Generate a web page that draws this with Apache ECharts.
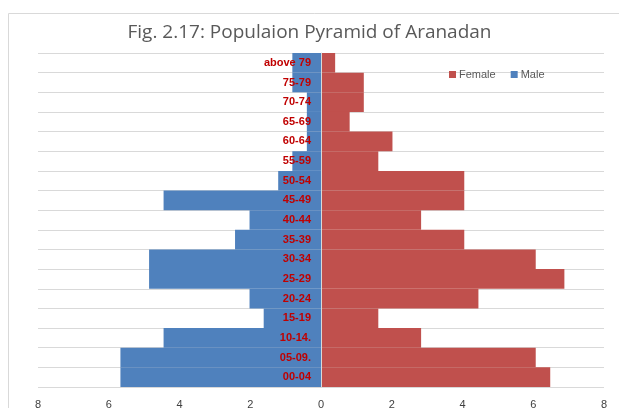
<!DOCTYPE html>
<html lang="en">
<head>
  <meta charset="UTF-8">
  <title>Population pyramid</title>
  <script src="https://cdn.jsdelivr.net/npm/echarts@6/dist/echarts.min.js"></script>
  <style>
    html, body { margin: 0; padding: 0; background: #fff; }
    #main { width: 619px; height: 408px; }
  </style>
</head>
<body>
  <div id="main"></div>
  <script>
    // age groups, top of the pyramid first
    var ageGroups = ['above 79', '75-79', '70-74', '65-69', '60-64', '55-59', '50-54', '45-49',
      '40-44', '35-39', '30-34', '25-29', '20-24', '15-19', '10-14.', '05-09.', '00-04'];
    // percent of population, male shown on the left (negative)
    var maleValues = [-0.81, -0.81, -0.40, -0.40, -0.40, -0.81, -1.21, -4.45,
      -2.02, -2.43, -4.86, -4.86, -2.02, -1.62, -4.45, -5.67, -5.67];
    var femaleValues = [0.40, 1.21, 1.21, 0.81, 2.02, 1.62, 4.05, 4.05,
      2.83, 4.05, 6.07, 6.88, 4.45, 1.62, 2.83, 6.07, 6.48];
    var xTicks = [-8, -6, -4, -2, 0, 2, 4, 6, 8];

    var gridLeft = 38, gridRight = 15;
    var plotW = 619 - gridLeft - gridRight;

    var oChart = echarts.init(document.getElementById('main'));
    var opt = {
      animation: false,
      title: {
        text: 'Fig. 2.17: Populaion Pyramid of Aranadan',
        left: 'center',
        top: 18,
        textStyle: { fontFamily: 'Open Sans', fontSize: 19, fontWeight: 'normal', color: '#595959' }
      },
      graphic: [{
        type: 'rect',
        shape: { x: 8.5, y: 13.5, width: 700, height: 500 },
        style: { fill: 'none', stroke: '#d9d9d9', lineWidth: 1 },
        silent: true
      }],
      legend: {
        data: ['Female', 'Male'],
        left: 444,
        top: 64,
        itemWidth: 7,
        itemHeight: 7,
        itemGap: 15,
        icon: 'rect',
        textStyle: { fontFamily: 'Liberation Sans', fontSize: 11, color: '#595959', padding: [0, 0, 0, -2] }
      },
      grid: { left: gridLeft, right: gridRight, top: 53, bottom: 21, outerBoundsMode: 'none' },
      xAxis: {
        type: 'value',
        min: -8,
        max: 8,
        interval: 2,
        axisLine: { show: false },
        axisTick: { show: false },
        splitLine: { show: false },
        axisLabel: {
          margin: 12,
          fontFamily: 'Liberation Sans',
          fontSize: 11,
          color: '#404040',
          formatter: function (v) { return xTicks.indexOf(v) >= 0 ? String(Math.abs(v)) : ''; }
        }
      },
      yAxis: [
        {
          // gridlines only, drawn under the bars
          type: 'category',
          data: ageGroups,
          inverse: true,
          axisLine: { show: false },
          axisTick: { show: false },
          axisLabel: { show: false },
          splitLine: { show: true, lineStyle: { color: '#d9d9d9', width: 1 } }
        },
        {
          // age labels on the zero line, drawn over the bars
          type: 'category',
          data: ageGroups,
          inverse: true,
          position: 'left',
          z: 5,
          offset: -plotW / 2,
          axisLine: { onZero: false, lineStyle: { color: '#d9d9d9', width: 1 } },
          axisTick: { show: false },
          splitLine: { show: false },
          axisLabel: {
            margin: 10,
            fontFamily: 'Liberation Sans',
            fontSize: 11,
            fontWeight: 'bold',
            color: '#c00000'
          }
        }
      ],
      series: [
        {
          name: 'Male',
          type: 'bar',
          stack: 'pop',
          barCategoryGap: 0,
          itemStyle: { color: '#4f81bd' },
          data: maleValues
        },
        {
          name: 'Female',
          type: 'bar',
          stack: 'pop',
          barCategoryGap: 0,
          itemStyle: { color: '#c0504d' },
          data: femaleValues
        }
      ]
    };
    oChart.setOption(opt);
  </script>
</body>
</html>
